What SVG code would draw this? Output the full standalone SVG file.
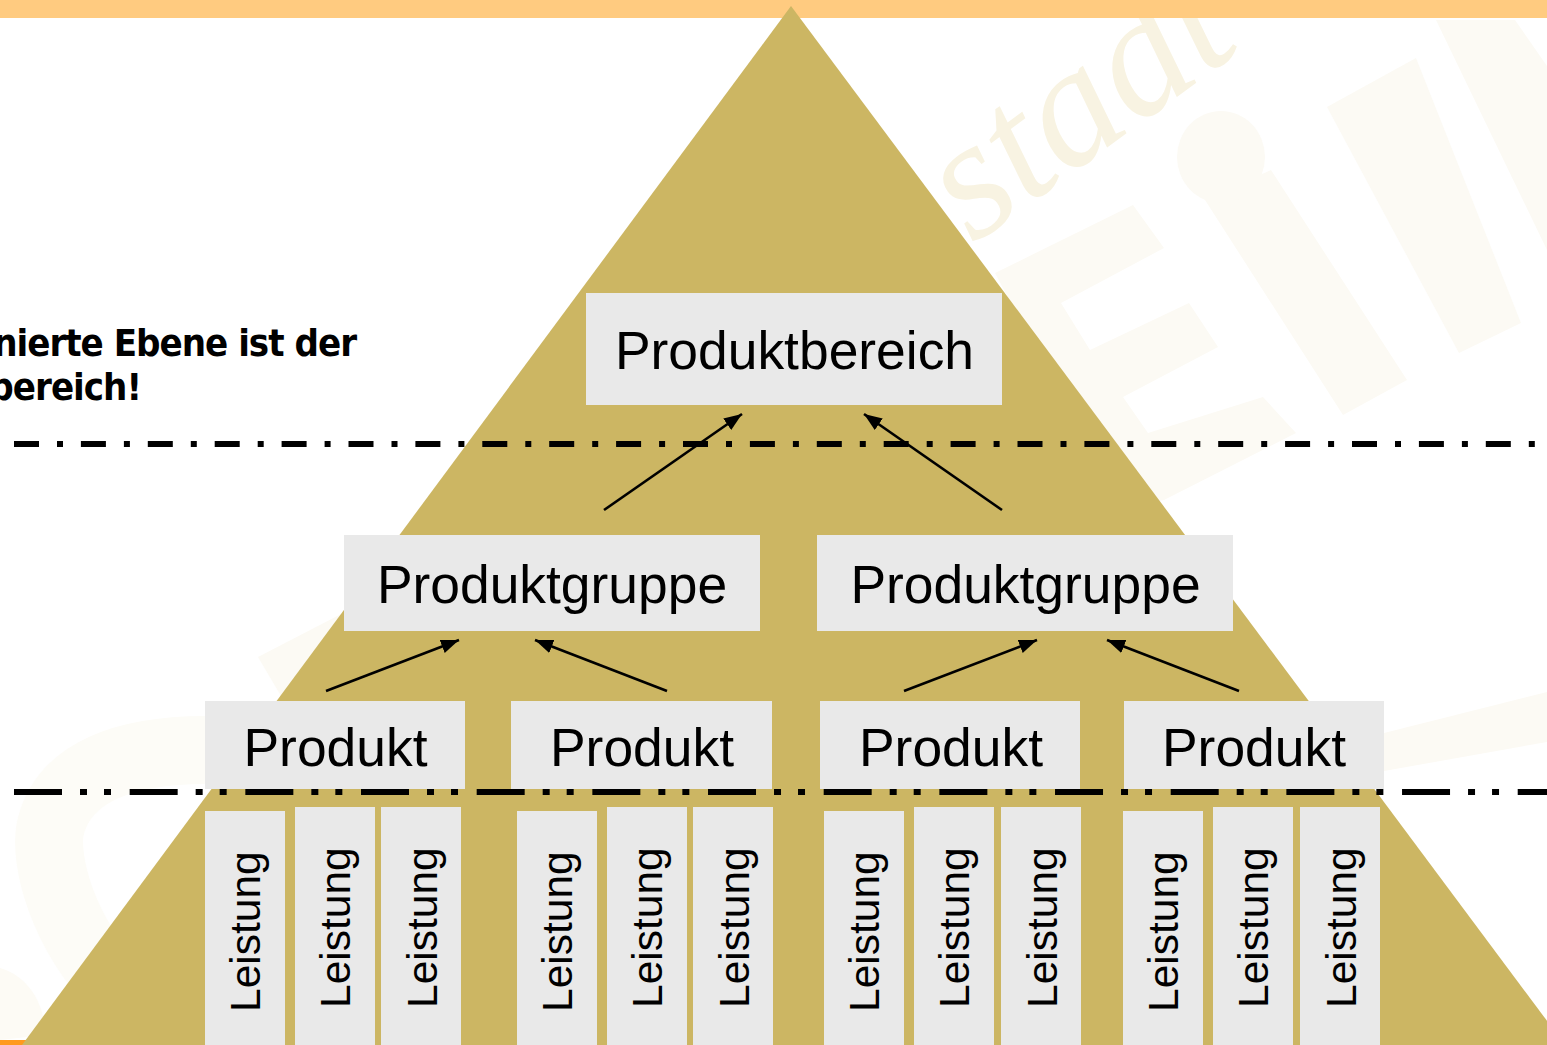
<svg xmlns="http://www.w3.org/2000/svg" width="1547" height="1045" viewBox="0 0 1547 1045">
  <defs>
    <marker id="arrow" markerUnits="userSpaceOnUse" markerWidth="20" markerHeight="16" refX="18" refY="7" orient="auto">
      <path d="M0,0 L18,7 L0,14 Z" fill="#000"/>
    </marker>
  </defs>
  <style>
    .box { fill: #e9e9e9; }
    .wm { fill: #fcfaf4; stroke: none; }
    .t { font-family: "Liberation Sans", Arial, sans-serif; font-size: 53.4px; fill: #000; text-anchor: middle; }
    .l { font-family: "Liberation Sans", Arial, sans-serif; font-size: 42.5px; fill: #000; }
    .note { font-family: "DejaVu Sans Condensed", "DejaVu Sans", sans-serif; font-weight: bold; font-size: 38px; letter-spacing: -1px; fill: #000; text-anchor: end; }
    .sep { fill: none; stroke: #000; stroke-width: 6; }
    .con { fill: none; stroke: #000; stroke-width: 2.6; marker-end: url(#arrow); }
  </style>

  <rect width="1547" height="1045" fill="#fff"/>

  <g id="watermark">
    <path class="wm" d="M995,273 L1133,205 L1164,248 L1061,303 L1090,350 L1189,303 L1218,347 L1123,397 L1148,433 L1263,397 L1296,433 L1164,500 L1120,510 Z"/>
    <path class="wm" d="M1205,200 L1271,170 L1407,380 L1343,415 Z"/>
    <ellipse class="wm" cx="1221" cy="157" rx="44" ry="46"/>
    <path class="wm" d="M1327,107 L1416,58 L1521,323 L1459,353 Z"/>
    <path class="wm" d="M1436,20 L1515,20 L1547,66 L1547,250 Z"/>
    <path class="wm" d="M1384,733 L1547,692 L1547,742 L1384,771 Z"/>
    <path class="wm" d="M258,657 L345,612 L345,640 L281,696 Z"/>
    <path d="M118,990 C60,930 45,860 50,830 C62,770 130,750 205,750" fill="none" stroke="#fdfcf7" stroke-width="68"/>
    <path d="M0,968 C25,975 45,1000 45,1035 L0,1040 Z" fill="#fdfbf5"/>
    <text x="973" y="245" transform="rotate(-36 973 245)" font-family="'Liberation Serif', serif" font-style="italic" font-size="172" fill="#f8f3e2">stadt</text>
  </g>

  <g id="frame">
    <rect x="0" y="0" width="1547" height="18" fill="#ffcb80"/>
    <rect x="0" y="1040" width="26" height="5" fill="#ff9a1e"/>
  </g>

  <polygon id="pyramid" points="791,6 1565,1045 22,1045" fill="#ccb663"/>

  <g id="separators">
    <line class="sep" x1="14" y1="444" x2="1535" y2="444" stroke-dasharray="25 18 6 17.900"/>
    <line class="sep" x1="14" y1="792" x2="1547" y2="792" stroke-dasharray="48 18 7 17 7 18.670"/>
  </g>

  <g id="connectors">
    <line class="con" x1="604" y1="510" x2="742" y2="414"/>
    <line class="con" x1="1002" y1="510" x2="864" y2="414"/>
    <line class="con" x1="326" y1="691" x2="459" y2="640"/>
    <line class="con" x1="667" y1="691" x2="535" y2="640"/>
    <line class="con" x1="904" y1="691" x2="1037" y2="640"/>
    <line class="con" x1="1239" y1="691" x2="1107" y2="640"/>
  </g>

  <g id="note"><text class="note" x="356" y="356">nierte Ebene ist der</text><text class="note" x="141" y="400">bereich!</text></g>

  <g id="bereich"><rect class="box" x="586" y="293" width="416" height="112"/><text class="t" x="794.500" y="369">Produktbereich</text></g>
  <g id="gruppe1"><rect class="box" x="344" y="535" width="416" height="96"/><text class="t" x="552" y="603">Produktgruppe</text></g>
  <g id="gruppe2"><rect class="box" x="817" y="535" width="416" height="96"/><text class="t" x="1025.500" y="603">Produktgruppe</text></g>

  <g id="produkt1"><rect class="box" x="205" y="701" width="260" height="88"/><text class="t" x="335.500" y="766">Produkt</text></g>
  <g id="produkt2"><rect class="box" x="511" y="701" width="261" height="88"/><text class="t" x="642" y="766">Produkt</text></g>
  <g id="produkt3"><rect class="box" x="820" y="701" width="260" height="88"/><text class="t" x="951" y="766">Produkt</text></g>
  <g id="produkt4"><rect class="box" x="1124" y="701" width="260" height="88"/><text class="t" x="1254" y="766">Produkt</text></g>

  <g id="leistung1"><rect class="box" x="205" y="811" width="80" height="234"/><text class="l" transform="translate(259.500 1012) rotate(-90)">Leistung</text></g>
  <g id="leistung2"><rect class="box" x="295" y="807" width="80" height="238"/><text class="l" transform="translate(349.500 1008) rotate(-90)">Leistung</text></g>
  <g id="leistung3"><rect class="box" x="381" y="807" width="80" height="238"/><text class="l" transform="translate(436.500 1008) rotate(-90)">Leistung</text></g>
  <g id="leistung4"><rect class="box" x="517" y="811" width="80" height="234"/><text class="l" transform="translate(571.500 1012) rotate(-90)">Leistung</text></g>
  <g id="leistung5"><rect class="box" x="607" y="807" width="80" height="238"/><text class="l" transform="translate(661.500 1008) rotate(-90)">Leistung</text></g>
  <g id="leistung6"><rect class="box" x="693" y="807" width="80" height="238"/><text class="l" transform="translate(748.500 1008) rotate(-90)">Leistung</text></g>
  <g id="leistung7"><rect class="box" x="824" y="811" width="80" height="234"/><text class="l" transform="translate(878.500 1012) rotate(-90)">Leistung</text></g>
  <g id="leistung8"><rect class="box" x="914" y="807" width="80" height="238"/><text class="l" transform="translate(968.500 1008) rotate(-90)">Leistung</text></g>
  <g id="leistung9"><rect class="box" x="1001" y="807" width="80" height="238"/><text class="l" transform="translate(1056.500 1008) rotate(-90)">Leistung</text></g>
  <g id="leistung10"><rect class="box" x="1123" y="811" width="80" height="234"/><text class="l" transform="translate(1177.500 1012) rotate(-90)">Leistung</text></g>
  <g id="leistung11"><rect class="box" x="1213" y="807" width="80" height="238"/><text class="l" transform="translate(1267.500 1008) rotate(-90)">Leistung</text></g>
  <g id="leistung12"><rect class="box" x="1300" y="807" width="80" height="238"/><text class="l" transform="translate(1355.500 1008) rotate(-90)">Leistung</text></g>
</svg>
